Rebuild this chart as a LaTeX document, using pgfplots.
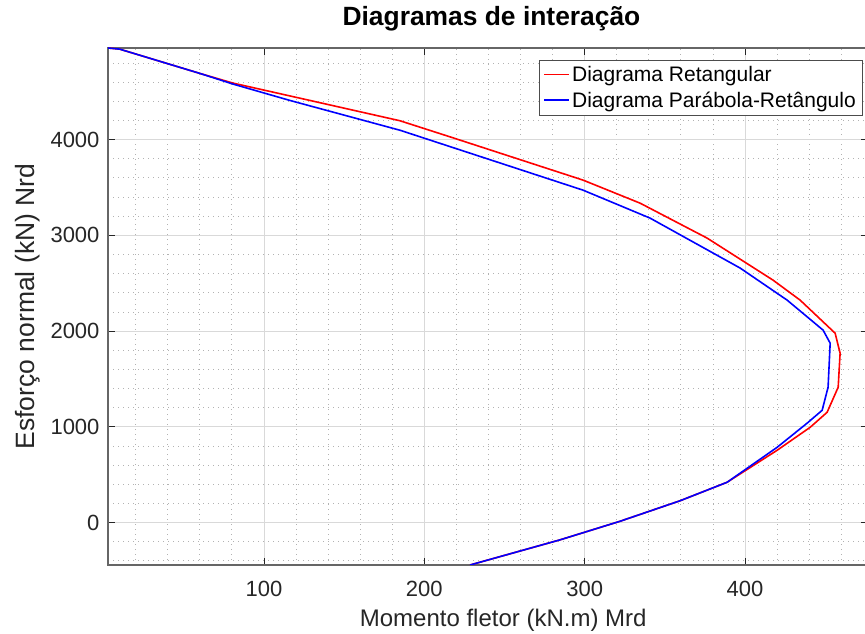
\documentclass[border=0pt]{standalone}
\usepackage{pgfplots}
\pgfplotsset{compat=1.18}
\usepackage{fontspec}
\setmainfont{Liberation Sans}
\pgfplotstableread{
x y
2.7 4957
10 4945
60.1 4691
80.7 4590
128.7 4409
184.8 4197
216.0 4029
299.0 3577
334.6 3336
376.4 2971
417.5 2532
434.4 2323
456.2 1978
459.3 1769
458.1 1414
451.2 1152
440.6 995
420.0 755
388.8 421
359.5 228
322.1 14
284.7 -180
228.5 -443
}\retangular
\pgfplotstableread{
x y
2.7 4957
10 4945
60.1 4691
80.7 4580
116.2 4409
184.8 4098
299.0 3472
340.8 3180
397.0 2658
426.3 2323
448.7 2010
453.1 1874
451.8 1414
448.1 1173
438.7 1038
420.0 786
388.8 421
359.5 228
322.1 14
284.7 -180
228.5 -443
}\parabola
\begin{document}
\begin{tikzpicture}[x=1pt,y=1pt]
\path[use as bounding box] (0,0) rectangle (865,634);
\begin{axis}[
  at={(108pt,69pt)}, anchor=south west,
  width=760pt, height=517pt, scale only axis,
  xmin=2.7, xmax=476.7, ymin=-443, ymax=4957,
  xtick={100,200,300,400}, ytick={0,1000,2000,3000,4000},
  minor xtick={20,40,...,460}, minor ytick={-400,-200,...,4800},
  grid=both,
  major grid style={draw=black!15, line width=0.9pt},
  minor grid style={draw=black!30, dash pattern=on 1pt off 4pt, line width=0.9pt},
  tick align=inside, major tick length=7pt, minor tick length=0pt,
  axis line style={draw=black!60, line width=1.2pt},
  major tick style={draw=black!85, line width=0.9pt},
  ticklabel style={font=\fontsize{22}{26}\selectfont, text=black!85},
  /pgf/number format/assume math mode=true,
  /pgf/number format/1000 sep={},
  xticklabel style={yshift=-13pt},
  yticklabel style={xshift=-5pt},
  title={Diagramas de interação},
  title style={at={(axis description cs:0.5046,1.031)}, anchor=base, font=\fontsize{26.4}{30}\selectfont\bfseries, text=black},
  xlabel={Momento fletor (kN.m) Mrd},
  xlabel style={at={(axis description cs:0.52,-0.118)}, anchor=base, font=\fontsize{24}{28}\selectfont, text=black!85},
  ylabel={Esforço normal (kN) Nrd},
  ylabel style={at={(axis description cs:-0.105,0.5)}, anchor=center, font=\fontsize{26.5}{30}\selectfont, text=black!85},
  legend style={at={(axis description cs:0.9921,0.9768)}, anchor=north east, font=\fontsize{21}{25}\selectfont, draw=black!70, fill=white, inner sep=4pt, row sep=5pt, cells={anchor=west}},
  legend image code/.code={\draw[#1] (0pt,0pt) -- (25pt,0pt);},
  legend image post style={line width=1.8pt},
]
\addplot[red, line width=1.6pt] table[x=x,y=y] {\retangular};
\addlegendentry{Diagrama Retangular}
\addplot[blue, line width=1.6pt] table[x=x,y=y] {\parabola};
\addlegendentry{Diagrama Parábola-Retângulo}
\end{axis}
\end{tikzpicture}
\end{document}
